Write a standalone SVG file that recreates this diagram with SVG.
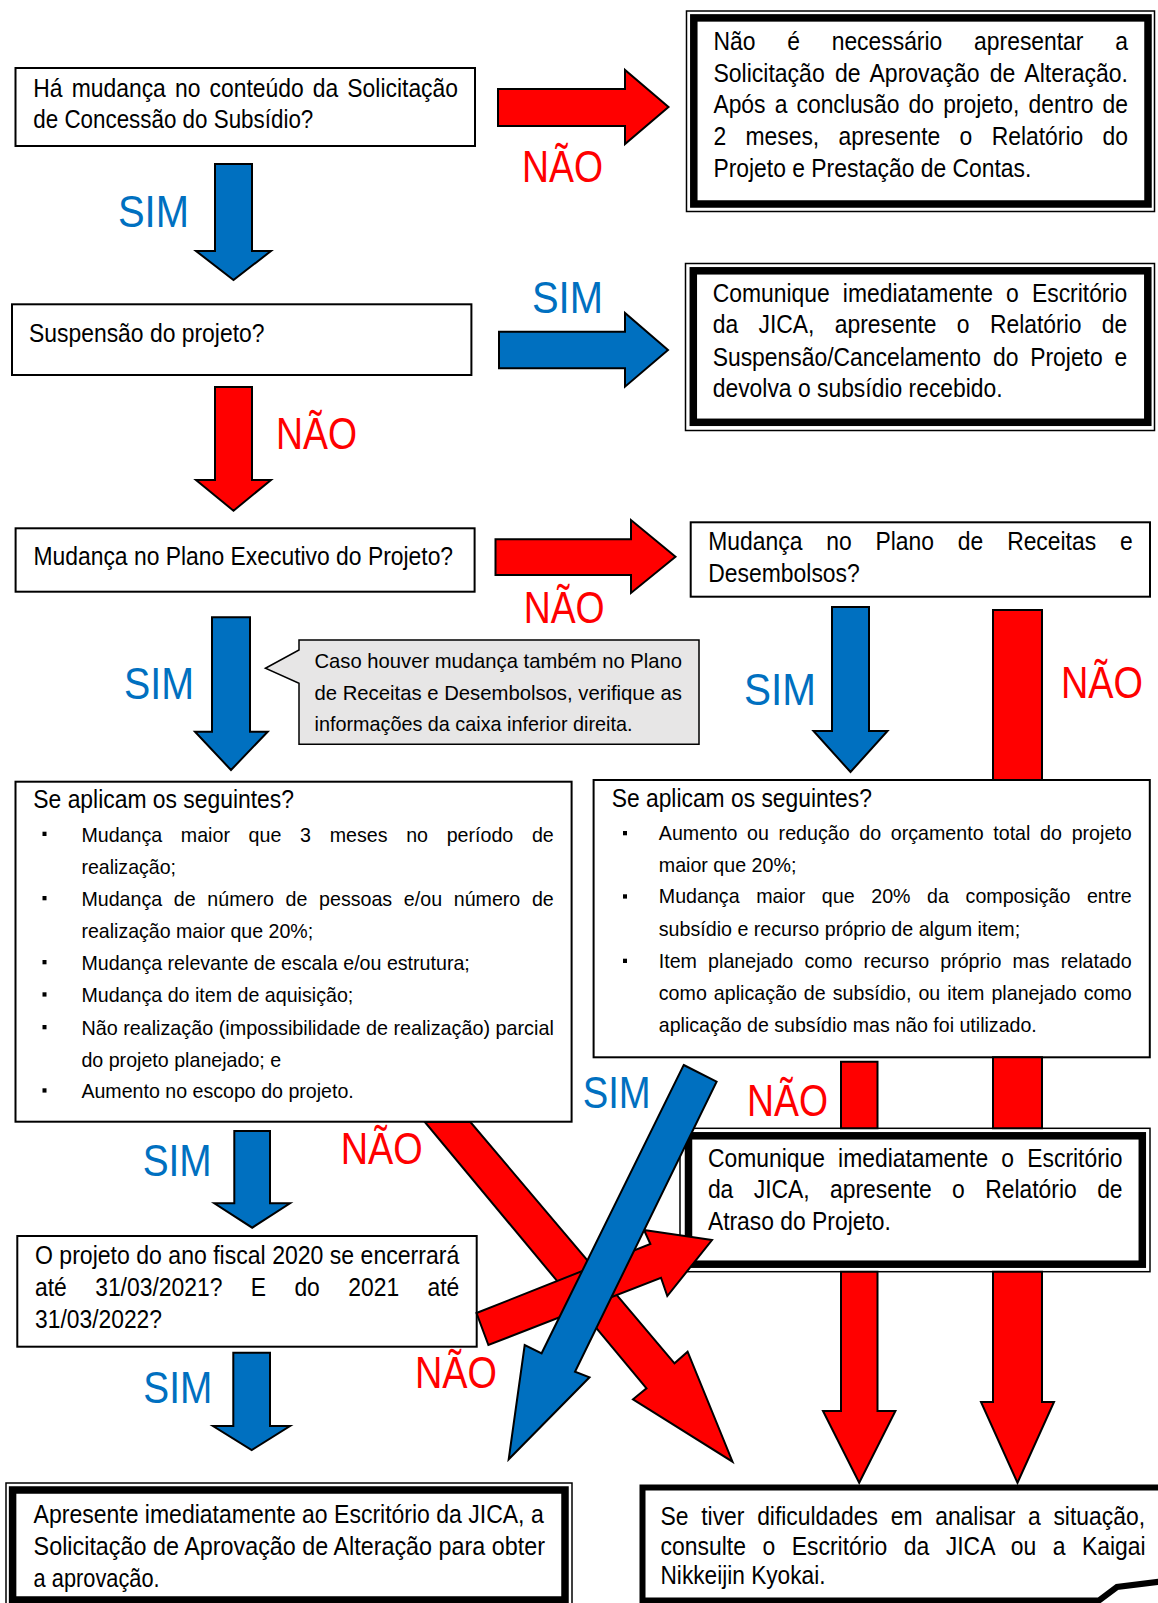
<svg xmlns="http://www.w3.org/2000/svg" width="1158" height="1603" viewBox="0 0 1158 1603">
<style>
.bx{fill:#fff;stroke:#000;stroke-width:2}
.thin{fill:#fff;stroke:#000;stroke-width:1.5}
.thick{fill:none;stroke:#000;stroke-width:7.5}
.t{font-family:"Liberation Sans",Arial,sans-serif;font-size:22.88px;fill:#000}
.s{font-size:19.64px}
.lb{font-family:"Liberation Sans",Arial,sans-serif;font-size:37.8px}
.sim{fill:#0070C0}
.nao{fill:#FF0000}
.ab{fill:#0070C0;stroke:#000;stroke-width:2;stroke-linejoin:miter}
.ar{fill:#FF0000;stroke:#000;stroke-width:2;stroke-linejoin:miter}
.bul{fill:#000}
.co{fill:#E7E6E6;stroke:#000;stroke-width:1.5}
</style>

<g id="n1">
<rect class="bx" x="15.5" y="68" width="459.5" height="78"/>
<text class="t" x="33.3" transform="translate(0 96.7) scale(1 1.1364)" textLength="424.7" lengthAdjust="spacingAndGlyphs" word-spacing="2.78">Há mudança no conteúdo da Solicitação</text>
<text class="t" x="33.3" transform="translate(0 128.3) scale(1 1.1364)" textLength="280" lengthAdjust="spacingAndGlyphs">de Concessão do Subsídio?</text>
</g>

<g id="n2">
<rect class="thin" x="686.5" y="11" width="468" height="200.5"/>
<rect class="thick" x="693.8" y="17.9" width="454.2" height="186.1"/>
<text class="t" x="713.4" transform="translate(0 50) scale(1 1.1364)" textLength="414.6" lengthAdjust="spacingAndGlyphs" word-spacing="25.45">Não é necessário apresentar a</text>
<text class="t" x="713.4" transform="translate(0 81.7) scale(1 1.1364)" textLength="414.6" lengthAdjust="spacingAndGlyphs" word-spacing="3.8">Solicitação de Aprovação de Alteração.</text>
<text class="t" x="713.4" transform="translate(0 113) scale(1 1.1364)" textLength="414.6" lengthAdjust="spacingAndGlyphs" word-spacing="2.75">Após a conclusão do projeto, dentro de</text>
<text class="t" x="713.4" transform="translate(0 145) scale(1 1.1364)" textLength="414.6" lengthAdjust="spacingAndGlyphs" word-spacing="12.98">2 meses, apresente o Relatório do</text>
<text class="t" x="713.4" transform="translate(0 176.7) scale(1 1.1364)" textLength="318" lengthAdjust="spacingAndGlyphs">Projeto e Prestação de Contas.</text>
</g>

<g id="n3">
<rect class="bx" x="12" y="304.3" width="459.4" height="70.7"/>
<text class="t" x="29" transform="translate(0 341.7) scale(1 1.1364)" textLength="235.5" lengthAdjust="spacingAndGlyphs">Suspensão do projeto?</text>
</g>

<g id="n4">
<rect class="thin" x="685.5" y="263.5" width="469" height="167"/>
<rect class="thick" x="693.3" y="270.8" width="454.5" height="151.5"/>
<text class="t" x="712.7" transform="translate(0 301.7) scale(1 1.1364)" textLength="414.6" lengthAdjust="spacingAndGlyphs" word-spacing="6.8">Comunique imediatamente o Escritório</text>
<text class="t" x="712.7" transform="translate(0 333.3) scale(1 1.1364)" textLength="414.6" lengthAdjust="spacingAndGlyphs" word-spacing="14">da JICA, apresente o Relatório de</text>
<text class="t" x="712.7" transform="translate(0 366) scale(1 1.1364)" textLength="414.6" lengthAdjust="spacingAndGlyphs" word-spacing="5.5">Suspensão/Cancelamento do Projeto e</text>
<text class="t" x="712.7" transform="translate(0 397.3) scale(1 1.1364)" textLength="290" lengthAdjust="spacingAndGlyphs">devolva o subsídio recebido.</text>
</g>

<g id="n5">
<rect class="bx" x="15.6" y="528.3" width="459" height="63.4"/>
<text class="t" x="33.5" transform="translate(0 565) scale(1 1.1364)" textLength="419.6" lengthAdjust="spacingAndGlyphs">Mudança no Plano Executivo do Projeto?</text>
</g>

<g id="n6">
<rect class="bx" x="690.7" y="522.3" width="459.3" height="74.4"/>
<text class="t" x="708.3" transform="translate(0 550) scale(1 1.1364)" textLength="424.4" lengthAdjust="spacingAndGlyphs" word-spacing="17.48">Mudança no Plano de Receitas e</text>
<text class="t" x="708.3" transform="translate(0 581.7) scale(1 1.1364)" textLength="151.5" lengthAdjust="spacingAndGlyphs">Desembolsos?</text>
</g>

<g id="n7">
<path class="co" d="M299,640 H699 V744.3 H299 V683.3 L265.4,668.3 L299,650 Z"/>
<text class="t s" x="314.5" transform="translate(0 668.3) scale(1 1.0695)" textLength="367.5" lengthAdjust="spacingAndGlyphs">Caso houver mudança também no Plano</text>
<text class="t s" x="314.5" transform="translate(0 700) scale(1 1.0695)" textLength="367.5" lengthAdjust="spacingAndGlyphs">de Receitas e Desembolsos, verifique as</text>
<text class="t s" x="314.5" transform="translate(0 730.7) scale(1 1.0695)" textLength="318" lengthAdjust="spacingAndGlyphs">informações da caixa inferior direita.</text>
</g>

<g id="n8">
<rect class="bx" x="15.5" y="781.7" width="556.1" height="340"/>
<text class="t" x="33.3" transform="translate(0 808.3) scale(1 1.1364)" textLength="260.7" lengthAdjust="spacingAndGlyphs">Se aplicam os seguintes?</text>
<rect class="bul" x="42.5" y="831.7" width="4" height="4.3"/>
<rect class="bul" x="42.5" y="896" width="4" height="4.3"/>
<rect class="bul" x="42.5" y="960" width="4" height="4.3"/>
<rect class="bul" x="42.5" y="992.3" width="4" height="4.3"/>
<rect class="bul" x="42.5" y="1025" width="4" height="4.3"/>
<rect class="bul" x="42.5" y="1088.3" width="4" height="4.3"/>
<text class="t s" x="81.4" transform="translate(0 841.7) scale(1 1.0695)" textLength="472.4" lengthAdjust="spacingAndGlyphs" word-spacing="13.23">Mudança maior que 3 meses no período de</text>
<text class="t s" x="81.4" transform="translate(0 874) scale(1 1.0695)" textLength="94.6" lengthAdjust="spacingAndGlyphs">realização;</text>
<text class="t s" x="81.4" transform="translate(0 906) scale(1 1.0695)" textLength="472.4" lengthAdjust="spacingAndGlyphs" word-spacing="6.21">Mudança de número de pessoas e/ou número de</text>
<text class="t s" x="81.4" transform="translate(0 938.3) scale(1 1.0695)" textLength="231.8" lengthAdjust="spacingAndGlyphs">realização maior que 20%;</text>
<text class="t s" x="81.4" transform="translate(0 970) scale(1 1.0695)" textLength="388.4" lengthAdjust="spacingAndGlyphs">Mudança relevante de escala e/ou estrutura;</text>
<text class="t s" x="81.4" transform="translate(0 1002.3) scale(1 1.0695)" textLength="271.9" lengthAdjust="spacingAndGlyphs">Mudança do item de aquisição;</text>
<text class="t s" x="81.4" transform="translate(0 1035) scale(1 1.0695)" textLength="472.4" lengthAdjust="spacingAndGlyphs">Não realização (impossibilidade de realização) parcial</text>
<text class="t s" x="81.4" transform="translate(0 1066.7) scale(1 1.0695)" textLength="199.8" lengthAdjust="spacingAndGlyphs">do projeto planejado; e</text>
<text class="t s" x="81.4" transform="translate(0 1098.3) scale(1 1.0695)" textLength="272.4" lengthAdjust="spacingAndGlyphs">Aumento no escopo do projeto.</text>
</g>

<g id="n9">
<rect class="bx" x="593.6" y="780" width="556.2" height="277.3"/>
<text class="t" x="611.7" transform="translate(0 807.3) scale(1 1.1364)" textLength="260.2" lengthAdjust="spacingAndGlyphs">Se aplicam os seguintes?</text>
<rect class="bul" x="623" y="831" width="4" height="4.3"/>
<rect class="bul" x="623" y="894.3" width="4" height="4.3"/>
<rect class="bul" x="623" y="958.7" width="4" height="4.3"/>
<text class="t s" x="658.8" transform="translate(0 840) scale(1 1.0695)" textLength="472.9" lengthAdjust="spacingAndGlyphs" word-spacing="4.26">Aumento ou redução do orçamento total do projeto</text>
<text class="t s" x="658.8" transform="translate(0 871.7) scale(1 1.0695)" textLength="137.6" lengthAdjust="spacingAndGlyphs">maior que 20%;</text>
<text class="t s" x="658.8" transform="translate(0 903.3) scale(1 1.0695)" textLength="472.9" lengthAdjust="spacingAndGlyphs" word-spacing="11.15">Mudança maior que 20% da composição entre</text>
<text class="t s" x="658.8" transform="translate(0 935.7) scale(1 1.0695)" textLength="361.4" lengthAdjust="spacingAndGlyphs">subsídio e recurso próprio de algum item;</text>
<text class="t s" x="658.8" transform="translate(0 967.7) scale(1 1.0695)" textLength="472.9" lengthAdjust="spacingAndGlyphs" word-spacing="5.7">Item planejado como recurso próprio mas relatado</text>
<text class="t s" x="658.8" transform="translate(0 1000) scale(1 1.0695)" textLength="472.9" lengthAdjust="spacingAndGlyphs" word-spacing="1.6">como aplicação de subsídio, ou item planejado como</text>
<text class="t s" x="658.8" transform="translate(0 1031.7) scale(1 1.0695)" textLength="378" lengthAdjust="spacingAndGlyphs">aplicação de subsídio mas não foi utilizado.</text>
</g>

<g id="n10">
<rect class="thin" x="680" y="1128.3" width="470" height="143.4"/>
<rect class="thick" x="688.5" y="1135.8" width="453.8" height="128.4"/>
<text class="t" x="707.9" transform="translate(0 1166.7) scale(1 1.1364)" textLength="414.7" lengthAdjust="spacingAndGlyphs" word-spacing="6.83">Comunique imediatamente o Escritório</text>
<text class="t" x="707.9" transform="translate(0 1198.3) scale(1 1.1364)" textLength="414.7" lengthAdjust="spacingAndGlyphs" word-spacing="14.02">da JICA, apresente o Relatório de</text>
<text class="t" x="707.9" transform="translate(0 1230) scale(1 1.1364)" textLength="183" lengthAdjust="spacingAndGlyphs">Atraso do Projeto.</text>
</g>

<g id="n11">
<rect class="bx" x="17.3" y="1236" width="459.4" height="110.7"/>
<text class="t" x="35" transform="translate(0 1264.3) scale(1 1.1364)" textLength="424.3" lengthAdjust="spacingAndGlyphs">O projeto do ano fiscal 2020 se encerrará</text>
<text class="t" x="35" transform="translate(0 1296) scale(1 1.1364)" textLength="424.3" lengthAdjust="spacingAndGlyphs" word-spacing="22.02">até 31/03/2021? E do 2021 até</text>
<text class="t" x="35" transform="translate(0 1328.3) scale(1 1.1364)" textLength="127" lengthAdjust="spacingAndGlyphs">31/03/2022?</text>
</g>

<g id="n12">
<rect class="thin" x="6" y="1483" width="566" height="130"/>
<rect class="thick" x="12.6" y="1490" width="552.4" height="110"/>
<text class="t" x="33.6" transform="translate(0 1523.3) scale(1 1.1364)" textLength="510.1" lengthAdjust="spacingAndGlyphs">Apresente imediatamente ao Escritório da JICA, a</text>
<text class="t" x="33.6" transform="translate(0 1555) scale(1 1.1364)" textLength="511.4" lengthAdjust="spacingAndGlyphs">Solicitação de Aprovação de Alteração para obter</text>
<text class="t" x="33.6" transform="translate(0 1586.7) scale(1 1.1364)" textLength="126" lengthAdjust="spacingAndGlyphs">a aprovação.</text>
</g>

<g id="n13">
<path d="M1165,1487.5 H642.5 V1600.5 H1099 L1117,1587 L1165,1581" fill="#fff" stroke="#000" stroke-width="6"/>
<text class="t" x="660.5" transform="translate(0 1524.5) scale(1 1.1364)" textLength="484.5" lengthAdjust="spacingAndGlyphs" word-spacing="6.37">Se tiver dificuldades em analisar a situação,</text>
<text class="t" x="660.5" transform="translate(0 1555) scale(1 1.1364)" textLength="485.2" lengthAdjust="spacingAndGlyphs" word-spacing="10.09">consulte o Escritório da JICA ou a Kaigai</text>
<text class="t" x="660.5" transform="translate(0 1584) scale(1 1.1364)" textLength="165" lengthAdjust="spacingAndGlyphs">Nikkeijin Kyokai.</text>
</g>

<g id="connectors">
<polygon class="ab" points="215,164 252,164 252,251 271,251 233.5,280 196,251 215,251"/>
<polygon class="ar" points="498,89 625,89 625,70 668.5,107 625,144 625,126 498,126"/>
<polygon class="ab" points="499,331.7 625,331.7 625,313 668,350 625,386.7 625,368.3 499,368.3"/>
<polygon class="ar" points="215,387 252,387 252,480 271,480 233.5,510.7 196,480 215,480"/>
<polygon class="ar" points="495.5,539.3 631,539.3 631,520 675.5,556.7 631,593 631,575 495.5,575"/>
<polygon class="ab" points="212,617.3 250,617.3 250,731.7 267.7,731.7 231,770 195,731.7 212,731.7"/>
<polygon class="ab" points="832,607 869,607 869,731 887.5,731 850.5,772 813.5,731 832,731"/>
<polygon class="ar" points="993,610 1042,610 1042,780 993,780"/>
<polygon class="ar" points="993,1057.3 1042,1057.3 1042,1128.3 993,1128.3"/>
<polygon class="ar" points="993,1271.7 1042,1271.7 1042,1402 1054,1402 1017.5,1482.7 981,1402 993,1402"/>
<polygon class="ar" points="841,1061.7 877.5,1061.7 877.5,1128.3 841,1128.3"/>
<polygon class="ar" points="841,1271.7 877.5,1271.7 877.5,1411 895.4,1411 859.2,1482.7 823,1411 841,1411"/>
<polygon class="ar" points="424.8,1122 470.4,1122 674.5,1363.3 687.6,1351.7 732.5,1461.7 633,1399.3 646.5,1388.3"/>
<polygon class="ar" points="476.5,1313 650.4,1244 644,1230 712,1240 667.3,1296 661,1277.7 488.4,1345"/>
<polygon class="ab" points="683.7,1065 716.6,1081.7 575,1371.7 589.5,1377.3 508.7,1459.3 524.7,1345 541.6,1353.3"/>
<polygon class="ab" points="234.3,1131 270,1131 270,1203.3 290,1203.3 252.2,1227.7 214.3,1203.3 234.3,1203.3"/>
<polygon class="ab" points="233.3,1352.7 270,1352.7 270,1426 290,1426 251.7,1450 213,1426 233.3,1426"/>
<text class="lb sim" x="118" transform="translate(0 227) scale(1 1.164)" textLength="71" lengthAdjust="spacingAndGlyphs">SIM</text>
<text class="lb nao" x="522" transform="translate(0 182) scale(1 1.164)" textLength="81" lengthAdjust="spacingAndGlyphs">NÃO</text>
<text class="lb sim" x="532" transform="translate(0 313) scale(1 1.164)" textLength="71" lengthAdjust="spacingAndGlyphs">SIM</text>
<text class="lb nao" x="276" transform="translate(0 449) scale(1 1.164)" textLength="81" lengthAdjust="spacingAndGlyphs">NÃO</text>
<text class="lb nao" x="523.7" transform="translate(0 623) scale(1 1.164)" textLength="81" lengthAdjust="spacingAndGlyphs">NÃO</text>
<text class="lb sim" x="124" transform="translate(0 699) scale(1 1.164)" textLength="70" lengthAdjust="spacingAndGlyphs">SIM</text>
<text class="lb sim" x="744" transform="translate(0 705) scale(1 1.164)" textLength="72" lengthAdjust="spacingAndGlyphs">SIM</text>
<text class="lb nao" x="1061" transform="translate(0 698) scale(1 1.164)" textLength="82" lengthAdjust="spacingAndGlyphs">NÃO</text>
<text class="lb sim" x="582.7" transform="translate(0 1107.7) scale(1 1.164)" textLength="68" lengthAdjust="spacingAndGlyphs">SIM</text>
<text class="lb nao" x="747" transform="translate(0 1116) scale(1 1.164)" textLength="81" lengthAdjust="spacingAndGlyphs">NÃO</text>
<text class="lb nao" x="340.7" transform="translate(0 1164.3) scale(1 1.164)" textLength="82" lengthAdjust="spacingAndGlyphs">NÃO</text>
<text class="lb sim" x="142.7" transform="translate(0 1176) scale(1 1.164)" textLength="69" lengthAdjust="spacingAndGlyphs">SIM</text>
<text class="lb nao" x="415" transform="translate(0 1387.5) scale(1 1.164)" textLength="82" lengthAdjust="spacingAndGlyphs">NÃO</text>
<text class="lb sim" x="143.3" transform="translate(0 1403.3) scale(1 1.164)" textLength="69" lengthAdjust="spacingAndGlyphs">SIM</text>
</g>
</svg>
